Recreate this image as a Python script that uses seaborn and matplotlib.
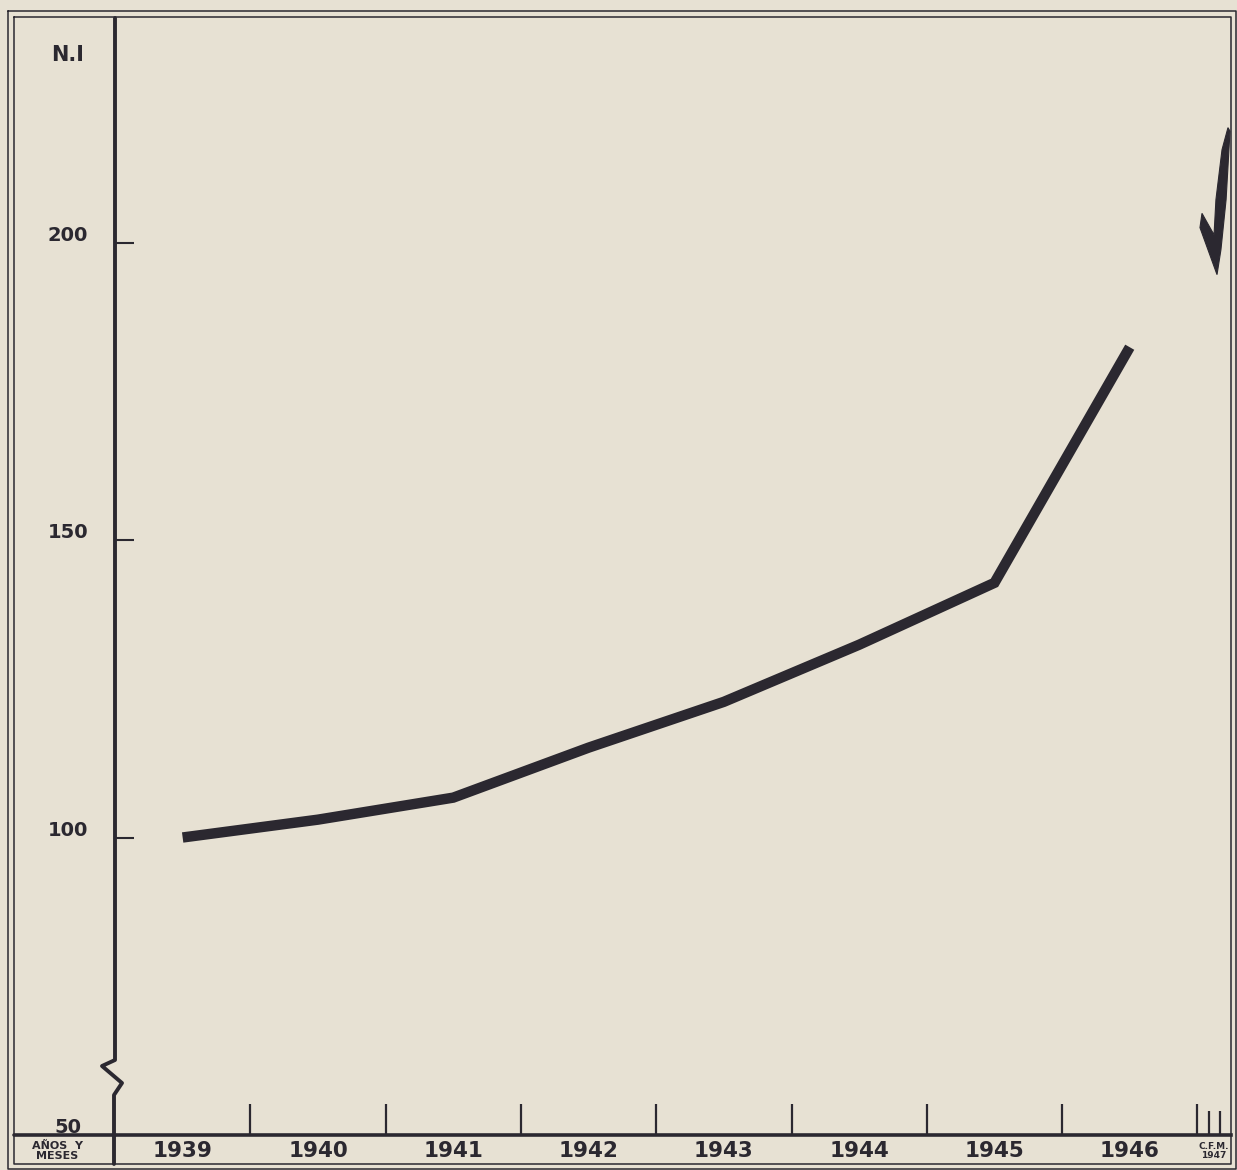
import matplotlib
matplotlib.use('Agg')
import matplotlib.pyplot as plt
from matplotlib.lines import Line2D
from matplotlib.transforms import blended_transform_factory, ScaledTranslation
import pandas as pd
import seaborn as sns

# index numbers (N.I), one value per year, plotted at mid-year
years = [1939, 1940, 1941, 1942, 1943, 1944, 1945, 1946]
index_vals = [100, 103, 106.7, 115.1, 122.8, 132.4, 142.8, 182.4]
year_labels = ['1939', '1940', '1941', '1942', '1943', '1944', '1945', '1946']
ytick_vals = [100, 150, 200]
ylabel_vals = [50, 100, 150, 200]
year_bounds = [1940, 1941, 1942, 1943, 1944, 1945, 1946, 1947]
month_ticks_1947 = [1947 + 1 / 12, 1947 + 2 / 12]
# outline of the hand drawn mark for early 1947 (year, index)
arrow_x = [1947.226, 1947.241, 1947.212, 1947.174, 1947.145, 1947.078,
           1947.019, 1947.034, 1947.093, 1947.123, 1947.137, 1947.182]
arrow_y = [219.3, 218.7, 207.2, 198.8, 194.6, 198.8,
           202.5, 204.9, 202.5, 201.3, 207.2, 215.6]

paper = '#e7e1d3'
ink = '#2b2830'

sns.set_theme(style='ticks')
plt.rcParams['font.family'] = ['DejaVu Sans']

W, H = 1237, 1170
fig = plt.figure(figsize=(W / 100, H / 100), dpi=100, facecolor=paper)


def px(x, y):
    return x / W, 1 - y / H


x0, x1, ybase, ytop = 115, 1231, 1135, 18
ax = fig.add_axes([x0 / W, 1 - ybase / H, (x1 - x0) / W, (ybase - ytop) / H])
ax.set_facecolor(paper)

df = pd.DataFrame({'x': [y + 0.5 for y in years], 'ni': index_vals})
sns.lineplot(data=df, x='x', y='ni', color=ink, lw=7.5, ax=ax,
             solid_joinstyle='miter', solid_capstyle='butt')
ax.fill(arrow_x, arrow_y, color=ink, lw=0.8, edgecolor=ink, clip_on=False)

ax.set_xlim(1939, 1939 + (x1 - x0) / 135.3)
ax.set_ylim(50, 50 + (ybase - ytop) / 5.95)

for s in ['top', 'right', 'left']:
    ax.spines[s].set_visible(False)
ax.spines['bottom'].set_linewidth(2.6)
ax.spines['bottom'].set_color(ink)

ax.set_xticks(year_bounds)
ax.set_xticks(month_ticks_1947, minor=True)
ax.tick_params(axis='x', which='major', direction='in', length=22, width=1.6,
               color=ink, labelbottom=False)
ax.tick_params(axis='x', which='minor', direction='in', length=17, width=1.6,
               color=ink, labelbottom=False)
ax.set_yticks(ytick_vals)
ax.tick_params(axis='y', direction='in', length=14, width=1.5, color=ink,
               labelleft=False)
ax.set_xlabel('')
ax.set_ylabel('')

# y labels, left of the axis
tr_y = blended_transform_factory(ax.transAxes, ax.transData)
up = ScaledTranslation(0, 2 / 100, fig.dpi_scale_trans)
for v in ylabel_vals:
    ax.text((68 - x0) / (x1 - x0), v, str(v), transform=tr_y + up,
            ha='center', va='baseline', fontsize=14, fontweight='bold',
            color=ink, clip_on=False)

# year labels in the row under the axis
tr_x = blended_transform_factory(ax.transData, ax.transAxes)
for yr, lab in zip(years, year_labels):
    ax.text(yr + 0.5, (ybase - 1151) / (ybase - ytop), lab, transform=tr_x,
            ha='center', va='center', fontsize=15.5, fontweight='bold',
            color=ink, clip_on=False)
ax.text(1947.12, (ybase - 1151) / (ybase - ytop), 'C.F.M.\n1947',
        transform=tr_x, ha='center', va='center', fontsize=6.5,
        fontweight='bold', color=ink, linespacing=1.0, clip_on=False)

fig.text(*px(68, 55), 'N.I', ha='center', va='center', fontsize=15,
         fontweight='bold', color=ink)
fig.text(*px(57, 1151), 'AÑOS  Y\nMESES', ha='center', va='center',
         fontsize=8, fontweight='bold', color=ink, linespacing=0.9)

# y axis with the break near the bottom
zig = [(115, ytop), (115, 1060), (102, 1066), (122, 1083), (114, 1095),
       (114, 1164)]
fig.add_artist(Line2D([px(*p)[0] for p in zig], [px(*p)[1] for p in zig],
                      transform=fig.transFigure, color=ink, lw=2.8))
# axis line continued across the label column
fig.add_artist(Line2D([px(14, 0)[0], px(x0, 0)[0]], [px(0, ybase)[1]] * 2,
                      transform=fig.transFigure, color=ink, lw=2.6))

# double frame
for l, t, r, b, w in [(8, 11, 1236, 1169, 1.1), (14, 17, 1231, 1164, 1.1)]:
    xs = [l, r, r, l, l]
    ys = [t, t, b, b, t]
    fig.add_artist(Line2D([px(a, 0)[0] for a in xs], [px(0, c)[1] for c in ys],
                          transform=fig.transFigure, color=ink, lw=w))

fig.savefig('out.png', dpi=100, facecolor=paper)
